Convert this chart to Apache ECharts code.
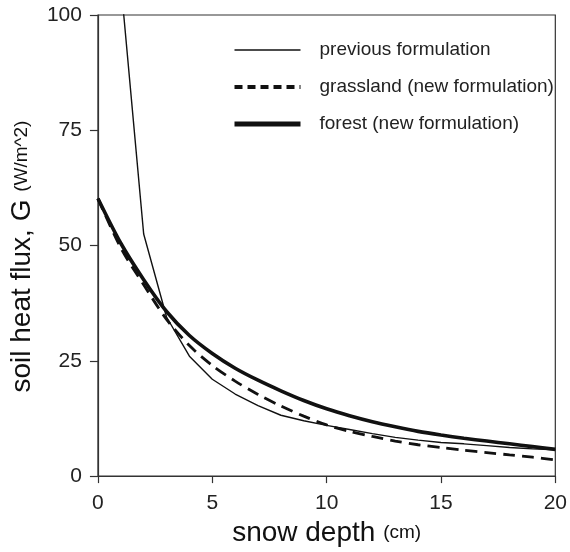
<!DOCTYPE html>
<html>
<head>
<meta charset="utf-8">
<script src="https://cdn.jsdelivr.net/npm/echarts@6/dist/echarts.min.js"></script>
<style>
html,body{margin:0;padding:0;background:#fff;}
#chart{width:570px;height:552px;}
</style>
</head>
<body>
<div id="chart"></div>
<script>
// snow depth (cm)
var depth = [0, 1, 2, 3, 4, 5, 6, 7, 8, 9, 10, 11, 12, 13, 14, 15, 16, 17, 18, 19, 20];
var depthPrev = [1, 2, 3, 4, 5, 6, 7, 8, 9, 10, 11, 12, 13, 14, 15, 16, 17, 18, 19, 20];
// soil heat flux G (W/m^2)
var previousG = [107, 52.5, 34.5, 26, 21, 17.8, 15.3, 13.2, 12.0, 11.0, 10.1, 9.2, 8.4, 7.8, 7.3, 7.0, 6.6, 6.2, 5.9, 5.7];
var grasslandG = [60.2, 49.5, 41.5, 34.0, 28.3, 24.0, 20.6, 17.7, 15.2, 13.0, 11.1, 9.7, 8.6, 7.6, 6.8, 6.2, 5.6, 5.1, 4.6, 4.1, 3.5];
var forestG = [60.2, 50.5, 42.6, 35.7, 30.5, 26.6, 23.4, 20.8, 18.5, 16.4, 14.6, 13.1, 11.8, 10.7, 9.7, 8.9, 8.2, 7.6, 7.0, 6.4, 5.8];
var seriesNames = ['previous formulation', 'grassland (new formulation)', 'forest (new formulation)'];
var xTicks = [0, 5, 10, 15, 20];
var yTicks = [0, 25, 50, 75, 100];

function pairs(xs, ys) { return xs.map(function (x, i) { return [x, ys[i]]; }); }

var FONT = 'Liberation Sans, Arial, Helvetica, sans-serif';
var chart = echarts.init(document.getElementById('chart'), null, {renderer: 'canvas'});
chart.setOption({
  backgroundColor: '#fff',
  animation: false,
  grid: {left: 94, right: 13, top: 15, bottom: 73, show: true, borderColor: '#333', borderWidth: 1.2, backgroundColor: 'transparent'},
  legend: {
    orient: 'vertical', left: 227, top: 34,
    itemWidth: 66, itemHeight: 22, itemGap: 15,
    itemStyle: {opacity: 0},
    textStyle: {fontFamily: FONT, fontSize: 19, color: '#222', padding: [0, 0, 0, 14], lineHeight: 22},
    data: [
      {name: seriesNames[0], lineStyle: {color: '#111', width: 1.4, type: 'solid'}},
      {name: seriesNames[1], lineStyle: {color: '#111', width: 4, type: [8, 5]}},
      {name: seriesNames[2], lineStyle: {color: '#111', width: 5, type: 'solid'}}
    ]
  },
  xAxis: {
    type: 'value', min: xTicks[0], max: xTicks[xTicks.length - 1], interval: 5,
    name: '{a|snow depth }{b|(cm)}', nameLocation: 'middle', nameGap: 41,
    nameTextStyle: {rich: {a: {fontFamily: FONT, fontSize: 28, color: '#111'}, b: {fontFamily: FONT, fontSize: 19, color: '#111'}}},
    axisLine: {show: true, lineStyle: {color: '#333', width: 1.2}},
    axisTick: {show: true, length: 7, lineStyle: {color: '#333', width: 1.2}},
    axisLabel: {fontFamily: FONT, fontSize: 21, color: '#222', margin: 17},
    splitLine: {show: false}
  },
  yAxis: {
    type: 'value', min: yTicks[0], max: yTicks[yTicks.length - 1], interval: 25,
    name: '{a|soil heat flux, G }{b|(W/m^2)}', nameLocation: 'middle', nameGap: 45,
    nameTextStyle: {padding: [0, 22, 0, 0], rich: {a: {fontFamily: FONT, fontSize: 28, color: '#111'}, b: {fontFamily: FONT, fontSize: 19, color: '#111'}}},
    axisLine: {show: true, lineStyle: {color: '#333', width: 1.2}},
    axisTick: {show: true, length: 8, lineStyle: {color: '#333', width: 1.2}},
    axisLabel: {fontFamily: FONT, fontSize: 21, color: '#222', margin: 16},
    splitLine: {show: false}
  },
  series: [
    {name: seriesNames[0], type: 'line', data: pairs(depthPrev, previousG), symbol: 'none', clip: true,
     lineStyle: {color: '#111', width: 1.4}, itemStyle: {color: '#111'}},
    {name: seriesNames[1], type: 'line', data: pairs(depth, grasslandG), symbol: 'none', smooth: 0.3, clip: true,
     lineStyle: {color: '#111', width: 2.8, type: [12, 7]}, itemStyle: {color: '#111'}},
    {name: seriesNames[2], type: 'line', data: pairs(depth, forestG), symbol: 'none', smooth: 0.3, clip: true,
     lineStyle: {color: '#111', width: 3.6}, itemStyle: {color: '#111'}}
  ]
});
</script>
</body>
</html>
